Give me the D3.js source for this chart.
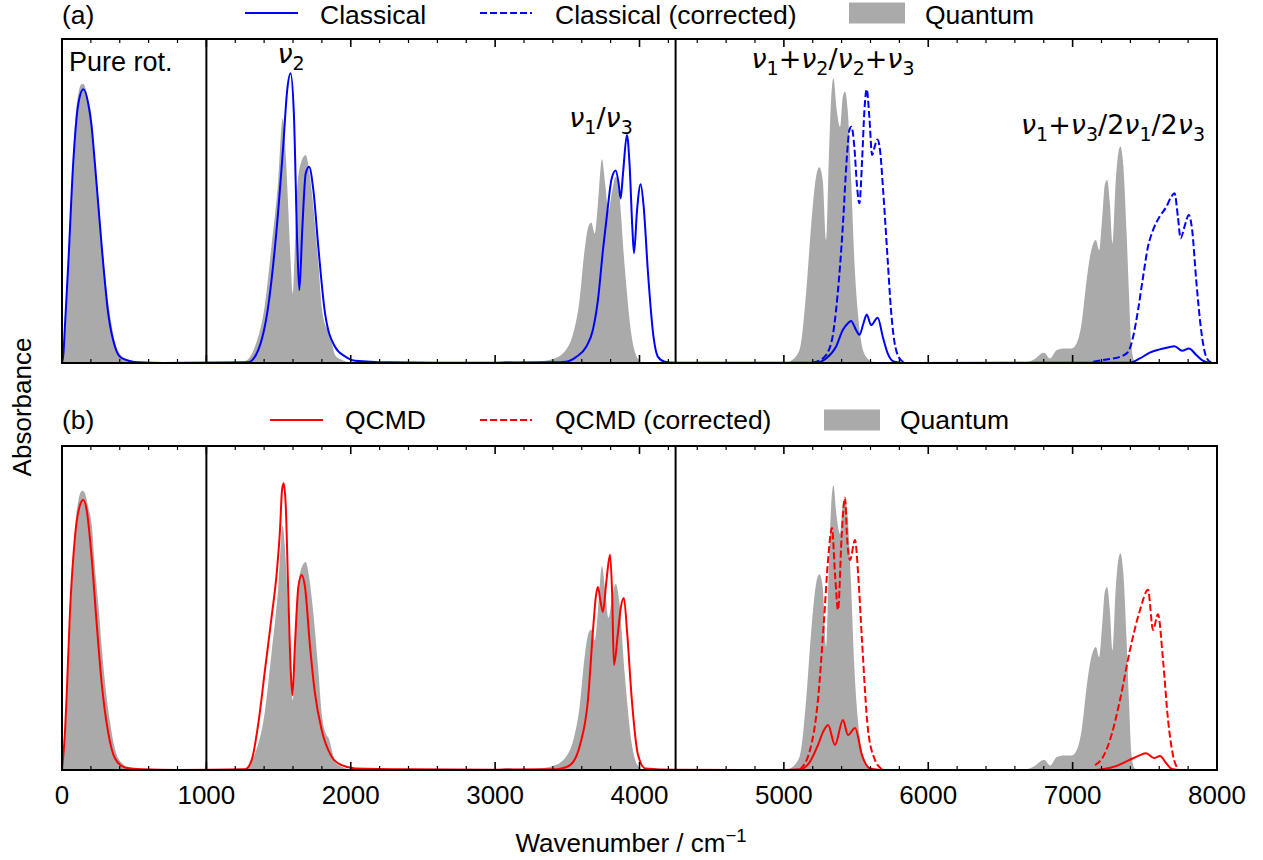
<!DOCTYPE html>
<html>
<head>
<meta charset="utf-8">
<script src="https://cdn.jsdelivr.net/npm/d3@7"></script>
<style>
  body { margin: 0; background: #fff; }
  text { font-family: "Liberation Sans", Arial, sans-serif; }
</style>
</head>
<body>
<svg id="chart" width="1263" height="860"></svg>
<script>
// quantum reference spectrum (same in both panels)
const quantum = [
  [0,0],[21,0.1],[44,0.32],[67,0.55],[90,0.74],[113,0.83],[135,0.86],[148,0.861],[165,0.845],[182,0.81],[205,0.76],[229,0.62],[252,0.51],[275,0.38],[298,0.27],[332,0.15],[367,0.065],[413,0.022],[480,0.005],[600,0.001],
  [1000,0],[1200,0],[1266,0.005],[1336,0.05],[1405,0.18],[1451,0.36],[1498,0.565],[1528,0.755],[1545,0.68],[1565,0.5],[1585,0.3],[1598,0.215],[1610,0.32],[1625,0.5],[1650,0.61],[1688,0.642],[1710,0.6],[1729,0.534],[1775,0.31],[1800,0.17],[1830,0.11],[1850,0.095],[1870,0.06],[1891,0.025],[1937,0.01],[1995,0.002],[2100,0],
  [3000,0],[3080,0.006],[3150,0.002],
  [3300,0.004],[3400,0.012],[3490,0.04],[3540,0.09],[3585,0.195],[3620,0.35],[3645,0.42],[3666,0.434],[3690,0.4],[3712,0.49],[3740,0.629],[3763,0.55],[3785,0.47],[3810,0.53],[3835,0.575],[3860,0.52],[3897,0.3],[3943,0.09],[3990,0.012],[4030,0],
  [5000,0],[5039,0.004],[5108,0.04],[5154,0.215],[5188,0.42],[5223,0.575],[5246,0.604],[5269,0.565],[5292,0.38],[5311,0.627],[5327,0.812],[5343,0.879],[5366,0.781],[5389,0.729],[5408,0.822],[5424,0.837],[5442,0.781],[5465,0.575],[5488,0.318],[5511,0.163],[5534,0.07],[5569,0.019],[5615,0.004],[5700,0],
  [6637,0],[6729,0.01],[6802,0.032],[6844,0.014],[6890,0.04],[6936,0.045],[6993,0.045],[7028,0.061],[7062,0.122],[7097,0.256],[7120,0.328],[7143,0.369],[7161,0.38],[7184,0.348],[7207,0.462],[7223,0.55],[7239,0.565],[7258,0.493],[7276,0.369],[7299,0.565],[7317,0.65],[7331,0.668],[7350,0.616],[7373,0.41],[7391,0.205],[7407,0.05],[7430,0.005],[7500,0],[8000,0]
];

// panel (a)
const classical = [
  [0,0],[10,0.03],[21,0.12],[44,0.31],[78,0.62],[113,0.8],[148,0.845],[182,0.8],[205,0.73],[229,0.61],[275,0.36],[321,0.15],[367,0.05],[413,0.015],[530,0.002],[700,0],
  [1289,0.002],[1359,0.04],[1428,0.174],[1486,0.41],[1532,0.668],[1560,0.843],[1583,0.894],[1606,0.77],[1630,0.36],[1644,0.225],[1664,0.41],[1688,0.585],[1711,0.606],[1741,0.534],[1775,0.36],[1822,0.153],[1891,0.05],[1961,0.02],[2030,0.007],[2262,0.002],[2600,0.001],[3000,0.001],[3400,0.002],
  [3492,0.004],[3562,0.019],[3631,0.05],[3677,0.102],[3712,0.194],[3747,0.349],[3781,0.482],[3805,0.565],[3835,0.594],[3855,0.555],[3869,0.508],[3886,0.586],[3913,0.704],[3932,0.606],[3950,0.421],[3962,0.339],[3983,0.472],[4008,0.552],[4029,0.482],[4059,0.277],[4094,0.092],[4128,0.019],[4175,0.004],[4250,0.001],
  [5223,0.001],[5292,0.014],[5361,0.05],[5408,0.102],[5442,0.122],[5465,0.13],[5500,0.102],[5523,0.087],[5551,0.122],[5574,0.15],[5604,0.117],[5650,0.14],[5685,0.081],[5719,0.03],[5765,0.004],[5850,0],
  [7396,0.001],[7465,0.014],[7534,0.032],[7603,0.042],[7660,0.048],[7706,0.052],[7759,0.038],[7805,0.045],[7856,0.025],[7902,0.007],[7948,0.001],[8000,0]
];
const classicalCorrA = [
  [5200,0.001],[5269,0.014],[5327,0.06],[5373,0.215],[5408,0.42],[5435,0.627],[5454,0.719],[5468,0.729],[5488,0.668],[5507,0.544],[5523,0.493],[5542,0.627],[5558,0.781],[5574,0.845],[5592,0.76],[5611,0.642],[5629,0.668],[5648,0.69],[5666,0.657],[5689,0.523],[5719,0.318],[5742,0.163],[5772,0.05],[5811,0.009],[5846,0.001]
];
const classicalCorrB = [
  [7143,0.004],[7235,0.011],[7327,0.019],[7384,0.034],[7419,0.081],[7453,0.163],[7488,0.266],[7522,0.359],[7557,0.41],[7603,0.452],[7649,0.482],[7683,0.513],[7706,0.524],[7729,0.452],[7748,0.385],[7775,0.421],[7805,0.457],[7828,0.41],[7856,0.256],[7890,0.102],[7925,0.019],[7959,0.001]
];

// panel (b)
const qcmd = [
  [0,0],[21,0.12],[32,0.226],[55,0.484],[90,0.72],[125,0.818],[148,0.833],[171,0.802],[205,0.658],[240,0.453],[275,0.267],[321,0.113],[367,0.036],[436,0.008],[552,0.002],[800,0],
  [1268,0.002],[1314,0.031],[1360,0.144],[1406,0.309],[1452,0.473],[1487,0.607],[1510,0.741],[1524,0.864],[1535,0.885],[1549,0.823],[1568,0.535],[1584,0.309],[1596,0.231],[1614,0.391],[1637,0.565],[1660,0.602],[1683,0.565],[1718,0.381],[1752,0.237],[1799,0.123],[1868,0.041],[1937,0.015],[2030,0.005],[2400,0.002],[3000,0.001],[3400,0.002],
  [3449,0.004],[3519,0.015],[3588,0.077],[3643,0.216],[3678,0.432],[3699,0.54],[3712,0.565],[3730,0.52],[3747,0.488],[3770,0.58],[3796,0.664],[3810,0.55],[3823,0.324],[3850,0.42],[3870,0.5],[3892,0.531],[3915,0.42],[3947,0.216],[3990,0.046],[4040,0.005],[4250,0.001],
  [5000,0],[5112,0.002],[5180,0.025],[5236,0.077],[5271,0.117],[5306,0.139],[5354,0.077],[5409,0.154],[5444,0.108],[5493,0.13],[5541,0.046],[5596,0.005],[5700,0],
  [7150,0],[7217,0.003],[7300,0.012],[7380,0.028],[7467,0.046],[7508,0.052],[7563,0.037],[7605,0.043],[7650,0.02],[7688,0.003],[7750,0],[8000,0]
];
const qcmdCorrA = [
  [5112,0.002],[5180,0.06],[5236,0.216],[5278,0.463],[5306,0.648],[5333,0.747],[5355,0.6],[5375,0.494],[5400,0.72],[5423,0.84],[5440,0.7],[5458,0.648],[5493,0.71],[5515,0.6],[5541,0.4],[5583,0.123],[5631,0.031],[5680,0.002]
];
const qcmdCorrB = [
  [7155,0.015],[7210,0.04],[7259,0.093],[7328,0.216],[7397,0.37],[7467,0.494],[7522,0.556],[7557,0.432],[7591,0.481],[7626,0.34],[7661,0.154],[7695,0.046],[7730,0.002]
];

const dividers = [1000, 4250];
const xTicks = [0, 1000, 2000, 3000, 4000, 5000, 6000, 7000, 8000];

const svg = d3.select("#chart");
const x = d3.scaleLinear().domain([0, 8000]).range([62, 1217]);

const panels = [
  { id: "a", top: 39, bottom: 363, tag: "(a)", textY: 24,
    series: [classical], dashed: [classicalCorrA, classicalCorrB], color: "#0000ff",
    legend: ["Classical", "Classical (corrected)"] },
  { id: "b", top: 446, bottom: 770, tag: "(b)", textY: 429,
    series: [qcmd], dashed: [qcmdCorrA, qcmdCorrB], color: "#ff0000",
    legend: ["QCMD", "QCMD (corrected)"] }
];

function mathLabel(g, px, py, src) {
  const t = g.append("text").attr("x", px).attr("y", py)
    .attr("text-anchor", "middle")
    .style("font-family", "'DejaVu Sans', sans-serif")
    .style("font-size", "27px");
  let sub = false;
  for (let i = 0; i < src.length; i++) {
    const c = src[i];
    if (c === "_") {
      t.append("tspan").attr("dy", sub ? 0 : 7).style("font-size", "19px").text(src[++i]);
      sub = true;
      continue;
    }
    const s = t.append("tspan").attr("dy", sub ? -7 : 0).text(c);
    if (c === "ν") s.style("font-style", "italic");
    sub = false;
  }
}

panels.forEach((p, pi) => {
  const y = d3.scaleLinear().domain([0, 1]).range([p.bottom, p.top]);
  const g = svg.append("g");

  g.append("clipPath").attr("id", "clip" + p.id)
    .append("rect").attr("x", x(0)).attr("y", p.top)
    .attr("width", x(8000) - x(0)).attr("height", p.bottom - p.top);

  const plot = g.append("g").attr("clip-path", `url(#clip${p.id})`);

  const area = d3.area().x(d => x(d[0])).y0(y(0)).y1(d => y(d[1])).curve(d3.curveMonotoneX);
  const line = d3.line().x(d => x(d[0])).y(d => y(d[1])).curve(d3.curveMonotoneX);

  plot.append("path").datum(quantum).attr("d", area).attr("fill", "#aaaaaa");

  p.series.forEach(s => {
    plot.append("path").datum(s).attr("d", line)
      .attr("fill", "none").attr("stroke", p.color).attr("stroke-width", 2);
  });
  p.dashed.forEach(s => {
    plot.append("path").datum(s).attr("d", line)
      .attr("fill", "none").attr("stroke", p.color).attr("stroke-width", 2)
      .attr("stroke-dasharray", "7,3");
  });

  // ticks, pointing inward, top and bottom
  const minor = d3.range(0, 8001, 200);
  [[p.top, 1], [p.bottom, -1]].forEach(([yy, dir]) => {
    g.selectAll(null).data(minor).join("line")
      .attr("x1", d => x(d)).attr("x2", d => x(d))
      .attr("y1", yy).attr("y2", d => yy + dir * (d % 1000 === 0 ? 8 : 4))
      .attr("stroke", "#000").attr("stroke-width", d => d % 1000 === 0 ? 1.6 : 1.2);
  });

  g.append("rect").attr("x", x(0)).attr("y", p.top)
    .attr("width", x(8000) - x(0)).attr("height", p.bottom - p.top)
    .attr("fill", "none").attr("stroke", "#000").attr("stroke-width", 2);

  g.selectAll(null).data(dividers).join("line")
    .attr("x1", d => x(d)).attr("x2", d => x(d))
    .attr("y1", p.top).attr("y2", p.bottom)
    .attr("stroke", "#000").attr("stroke-width", 2);

  // legend row
  const ly = p.top - 26;
  const ty = p.textY;
  const lg = svg.append("g").style("font-size", "26.5px");
  lg.append("text").attr("x", 62).attr("y", ty).text(p.tag);
  const off = pi === 0 ? 0 : 25;
  lg.append("line").attr("x1", 245 + off).attr("x2", 298 + off).attr("y1", ly).attr("y2", ly)
    .attr("stroke", p.color).attr("stroke-width", 2);
  lg.append("text").attr("x", 320 + off).attr("y", ty).text(p.legend[0]);
  lg.append("line").attr("x1", 480).attr("x2", 532).attr("y1", ly).attr("y2", ly)
    .attr("stroke", p.color).attr("stroke-width", 2).attr("stroke-dasharray", "7,3");
  lg.append("text").attr("x", 555).attr("y", ty).text(p.legend[1]);
  const rx = pi === 0 ? 849 : 824;
  lg.append("rect").attr("x", rx).attr("y", ly - 10.5).attr("width", 56).attr("height", 21).attr("fill", "#aaaaaa");
  lg.append("text").attr("x", rx + 76).attr("y", ty).text("Quantum");

  if (pi === 1) {
    g.selectAll(null).data(xTicks).join("text")
      .attr("x", d => x(d)).attr("y", p.bottom + 34)
      .attr("text-anchor", "middle").style("font-size", "26px").text(d => d);
  }
});

// annotations in panel (a)
svg.append("text").attr("x", 69).attr("y", 71).style("font-size", "27px").text("Pure rot.");
mathLabel(svg, 291, 63, "ν_2");
mathLabel(svg, 601, 127, "ν_1/ν_3");
mathLabel(svg, 833, 68, "ν_1+ν_2/ν_2+ν_3");
mathLabel(svg, 1113, 134, "ν_1+ν_3/2ν_1/2ν_3");

// axis titles
const xt = svg.append("text").attr("x", 631).attr("y", 852).attr("text-anchor", "middle").style("font-size", "26px");
xt.append("tspan").text("Wavenumber / cm");
xt.append("tspan").attr("dy", -10).style("font-size", "18.5px").text("−1");

svg.append("text").attr("transform", "translate(31,407) rotate(-90)")
  .attr("text-anchor", "middle").style("font-size", "26px").text("Absorbance");
</script>
</body>
</html>
